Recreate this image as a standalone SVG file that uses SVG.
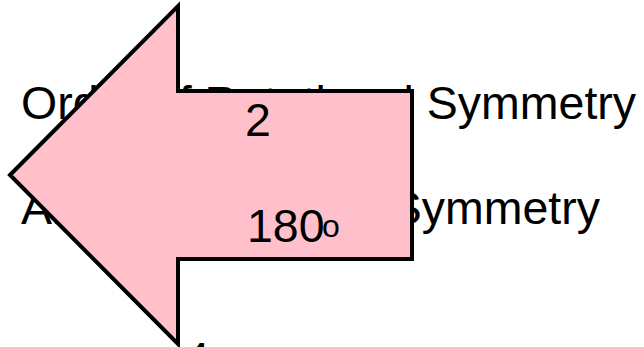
<svg xmlns="http://www.w3.org/2000/svg" width="644" height="347" viewBox="0 0 644 347">
<style>
.t{font-family:"Liberation Sans",Arial,sans-serif;font-size:46.5px;fill:#000}
.s{font-family:"Liberation Sans",Arial,sans-serif;font-size:32px;fill:#000}
.arrow{fill:#FFC0CB;stroke:#000;stroke-width:4;stroke-linejoin:miter}
</style>
<rect width="644" height="347" fill="#fff"/>
<g id="labels">
<text class="t" x="21" y="119">Order of Rotational Symmetry</text>
<text class="t" x="21" y="224">Angle of Rotation Symmetry</text>
<text class="t" x="184" y="375">4</text>
</g>
<g id="arrow">
<polygon class="arrow" points="10,175 178,6 178,91 412,91 412,259 178,259 178,344"/>
</g>
<g id="values">
<text class="t" x="245" y="136">2</text>
<text class="t" x="247" y="242">180</text>
<text class="s" x="322" y="237">o</text>
</g>
</svg>
